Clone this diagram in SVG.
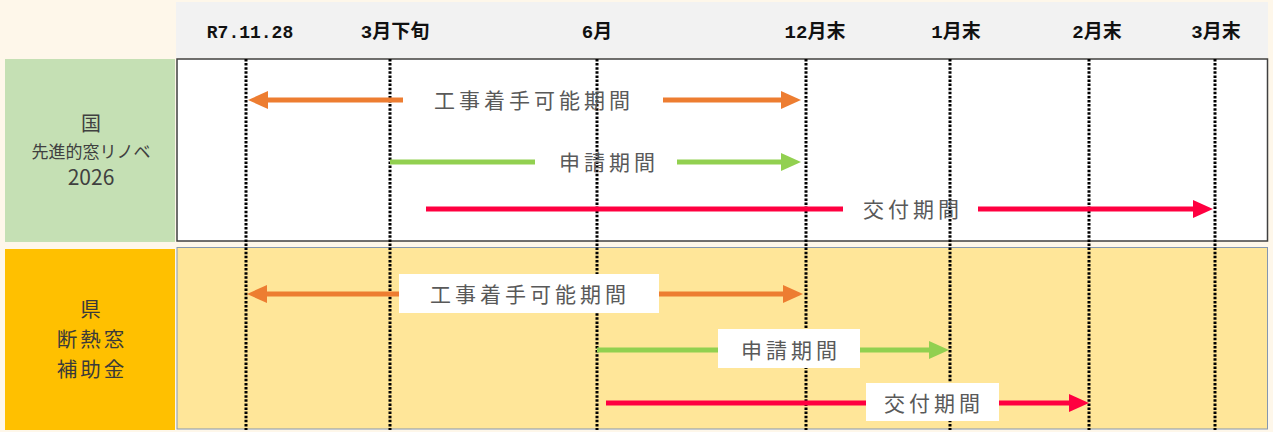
<svg xmlns="http://www.w3.org/2000/svg" width="1273" height="432" viewBox="0 0 1273 432">
<defs>
<style>
.hdr{font-family:"Liberation Mono","Noto Sans CJK JP",monospace;font-weight:bold;font-size:19px;fill:#111;text-anchor:middle}
.lbl{font-family:"Noto Sans CJK JP",sans-serif;font-size:21px;fill:#595959;text-anchor:middle;letter-spacing:4px}
.side{font-family:"Noto Sans CJK JP",sans-serif;fill:#404040;text-anchor:middle}
.vl{stroke:#000;stroke-width:3;stroke-dasharray:2.5 1.6;fill:none}
.or{stroke:#ED7D31;stroke-width:5;fill:none}
.gr{stroke:#92D050;stroke-width:5;fill:none}
.rd{stroke:#FF0040;stroke-width:5;fill:none}
.box{fill:#fff}
</style>
<marker id="aO" markerUnits="userSpaceOnUse" markerWidth="20" markerHeight="18" refX="1" refY="9" orient="auto-start-reverse"><path d="M0,0 L20,9 L0,18 z" fill="#ED7D31"/></marker>
<marker id="aG" markerUnits="userSpaceOnUse" markerWidth="20" markerHeight="18" refX="1" refY="9" orient="auto-start-reverse"><path d="M0,0 L20,9 L0,18 z" fill="#92D050"/></marker>
<marker id="aR" markerUnits="userSpaceOnUse" markerWidth="20" markerHeight="18" refX="1" refY="9" orient="auto-start-reverse"><path d="M0,0 L20,9 L0,18 z" fill="#FF0040"/></marker>
</defs>
<rect x="0" y="0" width="1273" height="432" fill="#FEF7EA"/>
<g id="header">
<rect x="176" y="2" width="1092" height="56" fill="#F2F2F2"/>
<text class="hdr" x="250" y="38" style="font-size:18px">R7.11.28</text>
<text class="hdr" x="395" y="38">3月下旬</text>
<text class="hdr" x="597" y="38">6月</text>
<text class="hdr" x="815" y="38">12月末</text>
<text class="hdr" x="956" y="38">1月末</text>
<text class="hdr" x="1097" y="38">2月末</text>
<text class="hdr" x="1216" y="38">3月末</text>
</g>
<g id="label-kuni">
<rect x="5" y="59" width="170" height="183" fill="#C5E0B4"/>
<text class="side"><tspan x="91" y="131" font-size="20">国</tspan><tspan x="91" y="158" font-size="17">先進的窓リノベ</tspan><tspan x="91" y="185" font-size="21">2026</tspan></text>
</g>
<g id="label-ken">
<rect x="5" y="249" width="170" height="181" fill="#FFC000"/>
<text class="side" font-size="20.5" letter-spacing="3" style="fill:#3a3a3a"><tspan x="92" y="317">県</tspan><tspan x="92" y="347">断熱窓</tspan><tspan x="92" y="377">補助金</tspan></text>
</g>
<g id="panel-kuni">
<rect x="177" y="59" width="1090.5" height="182" fill="#fff" stroke="#404040" stroke-width="1.5"/>
</g>
<g id="panel-ken">
<rect x="177" y="247.5" width="1090.5" height="181.5" fill="#FFE699" stroke="#8497B0" stroke-width="1"/>
</g>
<g id="connectors">
<g id="gridlines">
<line class="vl" x1="246" y1="59" x2="246" y2="430"/>
<line class="vl" x1="390" y1="59" x2="390" y2="430"/>
<line class="vl" x1="597" y1="59" x2="597" y2="430"/>
<line class="vl" x1="806" y1="59" x2="806" y2="430"/>
<line class="vl" x1="950" y1="59" x2="950" y2="430"/>
<line class="vl" x1="1089" y1="59" x2="1089" y2="430"/>
<line class="vl" x1="1215" y1="59" x2="1215" y2="430"/>
</g>
<g id="kuni-bars">
<line class="or" x1="403" y1="100" x2="267" y2="100" marker-end="url(#aO)"/>
<line class="or" x1="663" y1="100" x2="782" y2="100" marker-end="url(#aO)"/>
<line class="gr" x1="390" y1="162" x2="535" y2="162"/>
<line class="gr" x1="677" y1="162" x2="782" y2="162" marker-end="url(#aG)"/>
<line class="rd" x1="426" y1="209" x2="843" y2="209"/>
<line class="rd" x1="978" y1="209" x2="1194" y2="209" marker-end="url(#aR)"/>
</g>
<g id="ken-bars">
<line class="or" x1="399" y1="294" x2="266" y2="294" marker-end="url(#aO)"/>
<line class="or" x1="659" y1="294" x2="784" y2="294" marker-end="url(#aO)"/>
<line class="gr" x1="597" y1="350" x2="718" y2="350"/>
<line class="gr" x1="860" y1="350" x2="930" y2="350" marker-end="url(#aG)"/>
<line class="rd" x1="606" y1="403" x2="866" y2="403"/>
<line class="rd" x1="999" y1="403" x2="1070" y2="403" marker-end="url(#aR)"/>
</g>
</g>
<g id="kuni-labels">
<text class="lbl" x="534" y="108">工事着手可能期間</text>
<text class="lbl" x="609" y="170">申請期間</text>
<text class="lbl" x="913" y="217">交付期間</text>
</g>
<g id="ken-labels">
<g id="ken-koji"><rect class="box" x="399" y="274" width="260" height="39"/><text class="lbl" x="530" y="302">工事着手可能期間</text></g>
<g id="ken-shinsei"><rect class="box" x="718" y="329" width="142" height="39"/><text class="lbl" x="791" y="358">申請期間</text></g>
<g id="ken-kofu"><rect class="box" x="866" y="383" width="133" height="38"/><text class="lbl" x="934" y="411">交付期間</text></g>
</g>
</svg>
